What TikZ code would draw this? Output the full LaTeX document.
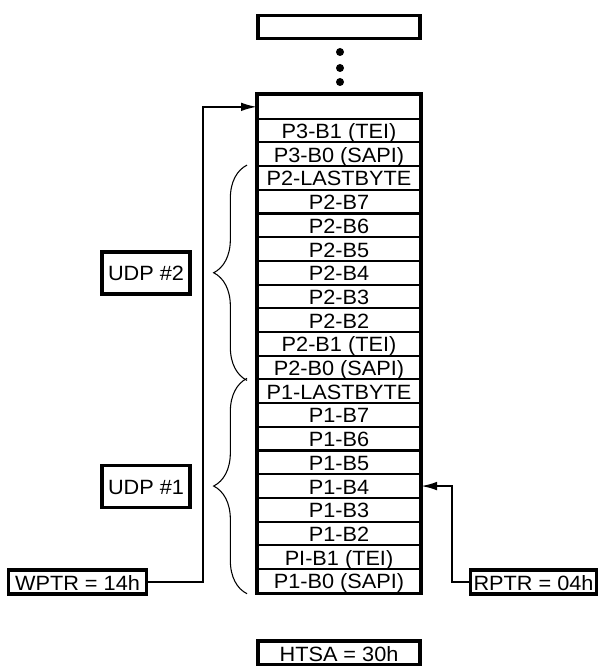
\documentclass[tikz,border=0pt]{standalone}
\usepackage{fontspec}
\setmainfont[FakeStretch=1.05]{Liberation Sans}
\usetikzlibrary{calc}
\usetikzlibrary{positioning}
\usetikzlibrary{arrows.meta}
\usetikzlibrary{decorations.pathreplacing}
\tikzstyle{cell}=[draw, line width=1.5pt, minimum width=121.5pt, minimum height=17.8pt, inner sep=0pt, text height=12pt, text depth=0pt]
\tikzstyle{outline}=[line width=2.3pt]
\tikzstyle{ptrbox}=[draw, line width=2.4pt, inner sep=0pt, minimum height=18pt, text height=12pt, text depth=0pt]
\tikzstyle{ptrline}=[line width=1.5pt, -{Latex[length=12pt,width=6.5pt]}]
\tikzstyle{udpbrace}=[decorate, decoration={brace, amplitude=25pt}, line width=0.8pt]
\def\rowh{23.7} % one cell in px

\begin{document}
\begin{tikzpicture}[x=0.75pt, y=-0.75pt, font=\fontsize{15.5pt}{18pt}\selectfont]
\useasboundingbox (0,0) rectangle (597,666);
% the buffer cells
\foreach \lbl [count=\i from 0] in {{}, P3-B1 (TEI), P3-B0 (SAPI), P2-LASTBYTE, P2-B7, P2-B6, P2-B5, P2-B4, P2-B3, P2-B2, P2-B1 (TEI), P2-B0 (SAPI), P1-LASTBYTE, P1-B7, P1-B6, P1-B5, P1-B4, P1-B3, P1-B2, PI-B1 (TEI), P1-B0 (SAPI)}
  \node[cell] (row\i) at (339, {95+\rowh*(\i+0.5)}) {\lbl};
\draw[outline] (row0.north west) rectangle (row20.south east);
% top of the buffer and the gap
\node[cell, line width=2.3pt] (topcell) at (339, 27) {};
\foreach \y in {52,68,82}
  \fill (340,\y) circle (3pt);
\node[ptrbox, minimum width=121.5pt] (htsa) at (339, 653) {HTSA = 30h};
% pointers
\node[ptrbox, minimum width=104pt] (wptr) at (77.5, 582) {WPTR = 14h};
\node[ptrbox, minimum width=95pt] (rptr) at (533.5, 582) {RPTR = 04h};
\draw[ptrline] (wptr.east) -- ++(55,0) |- (row0.west);
\draw[ptrline] (rptr.west) -- ++(-17,0) |- (row16.east);
% the two packets
\draw[udpbrace] ($(row11.south west)+(-10,0)$) -- ($(row3.north west)+(-10,0)$);
\draw[udpbrace] ($(row20.south west)+(-10,0)$) -- ($(row12.north west)+(-10,0)$);
\node[ptrbox, minimum width=66pt, minimum height=31.5pt] (udp2) at (146, 273) {UDP \#2};
\node[ptrbox, minimum width=66pt, minimum height=31.5pt] (udp1) at (146, 486.5) {UDP \#1};
\end{tikzpicture}
\end{document}
